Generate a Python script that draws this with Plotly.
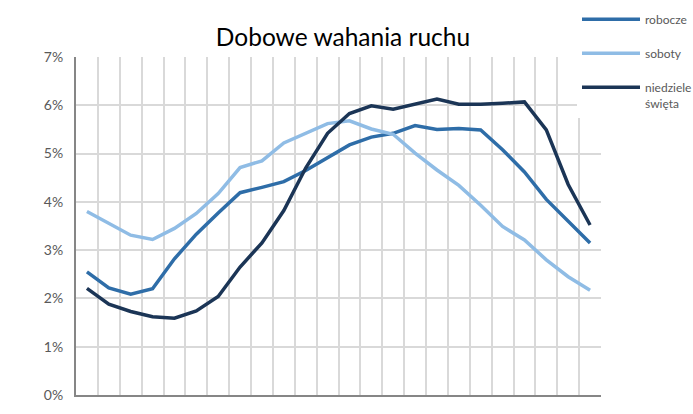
import plotly.graph_objects as go

# godziny doby
hours = [str(h) for h in range(1, 25)]

# udzial ruchu w godzinie [%]
robocze = [2.55, 2.22, 2.09, 2.20, 2.82, 3.33, 3.77, 4.19, 4.30, 4.42, 4.65, 4.92,
           5.18, 5.34, 5.42, 5.58, 5.50, 5.52, 5.49, 5.08, 4.62, 4.05, 3.60, 3.15]
soboty = [3.80, 3.55, 3.31, 3.22, 3.45, 3.76, 4.17, 4.71, 4.85, 5.22, 5.43, 5.62,
          5.68, 5.51, 5.40, 5.01, 4.66, 4.34, 3.93, 3.49, 3.21, 2.80, 2.45, 2.17]
niedziele = [2.21, 1.88, 1.73, 1.62, 1.59, 1.74, 2.04, 2.65, 3.15, 3.82, 4.70, 5.42,
             5.83, 5.99, 5.92, 6.02, 6.13, 6.02, 6.02, 6.04, 6.07, 5.49, 4.36, 3.52]

y_ticks = [0, 1, 2, 3, 4, 5, 6, 7]
y_labels = ["0%", "1%", "2%", "3%", "4%", "5%", "6%", "7%"]

series = [
    ("robocze", robocze, "#2E6DA8"),
    ("soboty", soboty, "#8FBCE5"),
    ("niedziele<br>święta", niedziele, "#1B3556"),
]

fig = go.Figure()
for i, (name, vals, color) in enumerate(series):
    fig.add_trace(go.Scatter(x=hours, y=vals, mode="lines", name=name,
                             legendgroup=str(i),
                             line=dict(color=color, width=3.5)))

W, H = 693, 414
fig.update_layout(
    width=W, height=H,
    margin=dict(l=76, r=92, t=57, b=19, autoexpand=False),
    paper_bgcolor="white", plot_bgcolor="white",
    font=dict(family="Lato, Open Sans, sans-serif", color="#595959", size=13),
    title=dict(text="Dobowe wahania ruchu", x=343 / W, xanchor="center",
               y=1 - 37 / H, yanchor="middle", yref="container",
               font=dict(size=24.5, color="#000000")),
    legend=dict(x=577 / W, xref="container", xanchor="left",
                y=1 + 52 / 338, yref="paper", yanchor="top",
                bgcolor="white", font=dict(size=12, color="#595959"),
                traceorder="grouped", tracegroupgap=15, itemwidth=58,
                valign="top"),
)

# half a category of room on each side, like an Excel line chart
fig.update_xaxes(type="category", range=[-0.5, len(hours) - 0.5],
                 tickson="boundaries", showgrid=True,
                 gridcolor="#D9D9D9", gridwidth=1.5,
                 showline=True, linecolor="#868686", linewidth=2,
                 ticks="", automargin=False, ticklabelstandoff=17,
                 tickfont=dict(size=13, color="#595959"))
fig.update_yaxes(range=[0, 7], tickvals=y_ticks, ticktext=y_labels,
                 showgrid=True, gridcolor="#D9D9D9", gridwidth=1.5,
                 showline=True, linecolor="#868686", linewidth=2,
                 zeroline=False, ticks="", ticklabelstandoff=8,
                 automargin=False,
                 tickfont=dict(size=14, color="#595959"))

# drop the default page margin so the figure sits at the window corner
fig.write_html("out.html", config={"displayModeBar": False},
               post_script="document.body.style.margin = '0';")
